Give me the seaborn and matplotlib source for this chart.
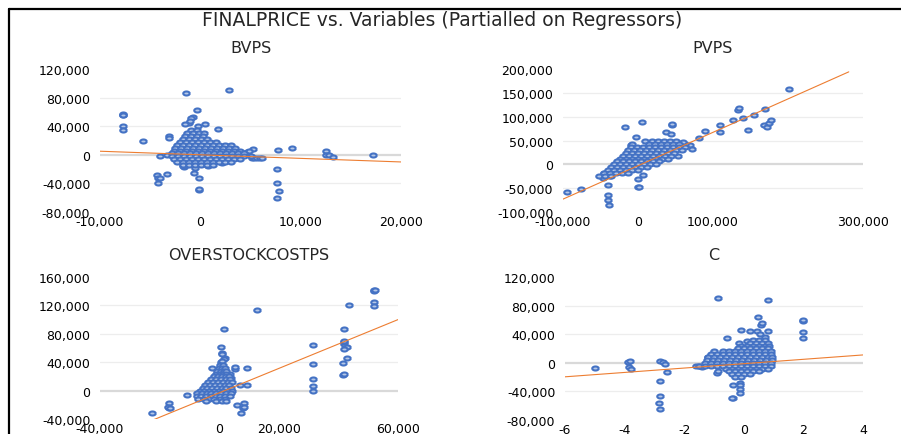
import numpy as np
import pandas as pd
import matplotlib
matplotlib.use("Agg")
import matplotlib.pyplot as plt
from matplotlib.lines import Line2D
from matplotlib.path import Path
from matplotlib.ticker import FuncFormatter
import seaborn as sns

# ---- data (partial regression plots) ----
# BVPS: scattered points + dense core rows (y, [x ...])
bvps_pts = [(-1400, 86000), (2900, 90000), (-7700, 57000), (-7700, 55000), (-7700, 56000),
            (-7700, 40000), (-7700, 34000), (-5700, 19000), (-3100, 26000), (-3100, 23000),
            (-300, 62000), (-700, 53000), (-900, 52000), (-1100, 45000), (-1500, 43000),
            (500, 43000), (-200, 40000), (1800, 36000), (-1000, 47000),
            (7700, 7000), (9100, 9000), (12500, 6000), (12500, 0), (12800, 0), (13200, -3000),
            (17200, 0), (7600, -20000), (7600, -40000), (7800, -50000), (7600, -60000),
            (-4300, -28000), (-4200, -33000), (-4000, -33000), (-4200, -40000), (-3300, -27000),
            (-100, -49000), (-150, -48500), (-100, -32000), (-600, -26000), (-500, -19000),
            (-1600, -17000), (800, -16000), (2200, -12000), (-1700, -16000), (-4000, -1000), (-3300, 0),
            (4700, 4000), (5200, 8000), (5100, -4000), (5300, -4000), (5600, -4000),
            (5900, -4000), (6100, -4000), (4900, 5000)]
bvps_core = [(34000, [-900, -300]),
             (30000, [-1300, -700, -100, 400]),
             (26000, [-1500, -900, -300, 300]),
             (22000, [-1700, -1100, -500, 100, 700]),
             (18000, [-2000, -1400, -800, -200, 400, 1000, 1600]),
             (14000, [-2300, -1700, -1100, -500, 100, 700, 1300, 1900, 2500, 3100]),
             (10000, [-2500, -1900, -1300, -700, -100, 500, 1100, 1700, 2300, 2900, 3500]),
             (6000, [-2600, -2000, -1400, -800, -200, 400, 1000, 1600, 2200, 2800, 3400, 4000]),
             (2000, [-2800, -2200, -1600, -1000, -400, 200, 800, 1400, 2000, 2600, 3200, 3800, 4400]),
             (-2000, [-2800, -2200, -1600, -1000, -400, 200, 800, 1400, 2000, 2600, 3200, 3800, 4400, 5000]),
             (-6000, [-2600, -2000, -1400, -800, -200, 400, 1000, 1600, 2200, 2800, 3400, 4000]),
             (-10000, [-2300, -1700, -1100, -500, 100, 700, 1300, 1900, 2500, 3100]),
             (-14000, [-1700, -1100, -500, 100, 700, 1300])]
bvps_trend = ([-10000, 20000], [5000, -10000])

# PVPS
pvps_pts = [(201000, 157000), (169000, 117000), (133000, 115000), (134000, 118000), (126000, 94000),
            (140000, 97000), (154000, 103000), (147000, 73000), (168000, 83000), (172000, 79000),
            (175000, 87000), (177000, 93000), (109000, 83000), (109000, 68000), (89000, 70000),
            (81000, 56000), (69000, 40000), (63000, 42000), (72000, 32000), (45000, 83000), (45000, 85000),
            (5000, 88000), (-18000, 79000), (-3000, 58000), (37000, 68000), (44000, 63000),
            (9000, 50000), (19000, 48000), (0, -31000), (0, -48000), (1000, -48000), (6000, -22000),
            (-40000, -44000), (-40000, -65000), (-40000, -75000), (-39000, -85000), (-95000, -58000),
            (-76000, -52000), (-45000, -19000), (-41000, -20000), (-47000, -28000), (-38000, -25000),
            (53000, 18000), (-10000, 40000), (60000, 46000)]
pvps_core = [(48000, [26000, 34000, 42000, 50000]),
             (42000, [-8000, 14000, 22000, 30000, 38000, 46000, 54000]),
             (36000, [-10000, -2000, 6000, 14000, 22000, 30000, 38000, 46000, 54000, 62000]),
             (30000, [-14000, -6000, 2000, 10000, 18000, 26000, 34000, 42000, 50000, 58000]),
             (24000, [-16000, -8000, 0, 8000, 16000, 24000, 32000, 40000, 48000]),
             (18000, [-20000, -12000, -4000, 4000, 12000, 20000, 28000, 36000, 44000]),
             (12000, [-24000, -16000, -8000, 0, 8000, 16000, 24000, 32000, 40000]),
             (6000, [-28000, -20000, -12000, -4000, 4000, 12000, 20000, 28000]),
             (0, [-32000, -24000, -16000, -8000, 0, 8000, 16000, 24000]),
             (-6000, [-36000, -28000, -20000, -12000, -4000, 4000, 12000]),
             (-12000, [-40000, -32000, -24000, -16000, -8000, 0]),
             (-18000, [-46000, -38000, -30000, -22000, -14000]),
             (-24000, [-52000, -44000, -36000])]
pvps_trend = ([-100000, 281000], [-73000, 194000])

# OVERSTOCKCOSTPS
osc_pts = [(52000, 140000), (52000, 142000), (52200, 141000), (52000, 125000), (52000, 119000),
           (43500, 120000), (42000, 87000), (42000, 66000), (42000, 68000), (42000, 70000),
           (43000, 62000), (42000, 59000), (43000, 46000), (41700, 39000), (41700, 22000),
           (41900, 23000), (31600, 64000), (31600, 38000), (31600, 16000), (31600, 7000),
           (31600, -1000), (12800, 114000), (1700, 87000), (700, 62000), (800, 53000),
           (800, 51000), (2000, 46000), (1500, 44000), (9400, 32000), (5400, 30000), (5400, 33000),
           (-2300, 32000), (9400, 8000), (7000, 8000), (6000, -20000), (8400, -18000),
           (8000, -24000), (8400, -23500), (7400, -31000), (-10800, -6000), (-16800, -17000),
           (-16800, -24000), (-17200, -23000), (-16600, -25000), (-22500, -32000),
           (4000, 18000), (3500, 24000), (500, 40000), (1000, 42000)]
osc_core = [(36000, [300, 1200]),
            (32000, [-200, 900, 1800]),
            (28000, [-600, 500, 1600, 2400]),
            (24000, [-1000, 200, 1300, 2400]),
            (20000, [-1800, -400, 1000, 2400, 3400]),
            (16000, [-2600, -1000, 600, 2200, 3600]),
            (12000, [-3600, -2000, -400, 1200, 2800, 4200]),
            (8000, [-4600, -3000, -1400, 200, 1800, 3400]),
            (4000, [-5600, -4000, -2400, -800, 800, 2400, 4000]),
            (0, [-6600, -5000, -3400, -1800, -200, 1400, 3000, 4400]),
            (-4000, [-7400, -5800, -4200, -2600, -1000, 600, 2200, 3800]),
            (-8000, [-7600, -6000, -4400, -2800, -1200, 400, 2000, 3600]),
            (-12000, [-7000, -5200, -3400, -1600, 200, 2000]),
            (-15000, [-4500, -1000, 1000, 2400])]
osc_trend = ([-22000, 60000], [-41000, 100000])

# C (constant)
c_pts = [(-5.0, -7000), (-3.87, 1400), (-3.82, 3000), (-3.85, -6000), (-3.78, -8000),
         (-2.82, 3000), (-2.7, 500), (-2.65, -1000), (-2.58, -13000), (-2.82, -25000),
         (-2.82, -46000), (-2.86, -56000), (-2.82, -65000), (-0.85, 90000), (0.82, 88000),
         (0.47, 64000), (0.57, 53000), (0.6, 55000), (-0.1, 46000), (0.2, 44000), (0.44, 44000),
         (0.8, 44000), (-0.57, 35000), (1.97, 58000), (1.97, 60000), (1.97, 43000), (1.97, 35000),
         (-0.13, -28000), (-0.13, -31000), (-0.35, -31000), (-0.13, -36000), (-0.13, -42000),
         (-0.37, -49000), (-0.4, -49000), (-0.9, -14000), (-0.85, -12000), (-0.1, -14000),
         (-1.2, 8000), (-1.6, -5000), (-1.5, -5000), (-1.4, -6000), (-0.15, 28000),
         (0.1, 30000), (0.7, 36000), (0.55, 40000)]
c_core = [(32000, [0.3, 0.5, 0.7]),
          (28000, [0.2, 0.4, 0.6, 0.8]),
          (24000, [-0.1, 0.1, 0.3, 0.5, 0.7, 0.85]),
          (20000, [-0.2, 0.0, 0.2, 0.4, 0.6, 0.8]),
          (16000, [-1.0, -0.7, -0.5, -0.3, -0.1, 0.1, 0.3, 0.5, 0.7, 0.9]),
          (12000, [-1.1, -0.9, -0.7, -0.5, -0.3, -0.1, 0.1, 0.3, 0.5, 0.7, 0.9]),
          (8000, [-1.2, -1.0, -0.8, -0.6, -0.4, -0.2, 0.0, 0.2, 0.4, 0.6, 0.8, 0.95]),
          (4000, [-1.25, -1.05, -0.85, -0.65, -0.45, -0.25, -0.05, 0.15, 0.35, 0.55, 0.75, 0.95]),
          (0, [-1.3, -1.1, -0.9, -0.7, -0.5, -0.3, -0.1, 0.1, 0.3, 0.5, 0.7, 0.9]),
          (-4000, [-1.5, -1.3, -1.1, -0.9, -0.7, -0.5, -0.3, -0.1, 0.1, 0.3, 0.5, 0.7, 0.9]),
          (-8000, [-0.6, -0.4, -0.2, 0.0, 0.2, 0.4, 0.6, 0.8]),
          (-12000, [-0.5, -0.3, -0.1, 0.1, 0.3, 0.5]),
          (-16000, [-0.4, -0.2, 0.0, 0.2]),
          (-20000, [-0.3, -0.1])]
c_trend = ([-6, 4], [-19600, 11000])

# axis ticks
bvps_xticks = [-10000, 0, 10000, 20000]
bvps_yticks = [-80000, -40000, 0, 40000, 80000, 120000]
pvps_xticks = [-100000, 0, 100000, 200000, 300000]
pvps_xlabels = ["-100,000", "0", "100,000", "", "300,000"]
pvps_yticks = [-100000, -50000, 0, 50000, 100000, 150000, 200000]
osc_xticks = [-40000, -20000, 0, 20000, 40000, 60000]
osc_xlabels = ["-40,000", "", "0", "20,000", "", "60,000"]
osc_yticks = [-40000, 0, 40000, 80000, 120000, 160000]
c_xticks = [-6, -4, -2, 0, 2, 4]
c_yticks = [-80000, -40000, 0, 40000, 80000, 120000]


def to_frame(pts, core):
    xs = [p[0] for p in pts]
    ys = [p[1] for p in pts]
    for yv, row in core:
        xs += row
        ys += [yv] * len(row)
    return pd.DataFrame({"x": xs, "y": ys})


sns.set_theme(style="white")
plt.rcParams["font.family"] = ["DejaVu Sans"]

BLUE = "#4472C4"
FACE = "#b4c7e7"
ORANGE = "#ED7D31"
t = np.linspace(0, 2 * np.pi, 25)
ellipse = Path(np.column_stack([np.cos(t), 0.62 * np.sin(t)]))

W, H = 901, 435
fig = plt.figure(figsize=(W / 100, H / 100), dpi=100)


def panel(rect, title, pts, core, trend, xticks, yticks, xlabels=None):
    l, t_, r, b = rect
    ax = fig.add_axes([l / W, 1 - b / H, (r - l) / W, (b - t_) / H])
    df = to_frame(pts, core)
    sns.scatterplot(data=df, x="x", y="y", ax=ax, marker=ellipse, s=22, legend=False)
    pc = ax.collections[-1]
    pc.set_facecolor(FACE)
    pc.set_edgecolor(BLUE)
    pc.set_linewidth(1.5)
    tdf = pd.DataFrame({"x": trend[0], "y": trend[1]})
    sns.lineplot(data=tdf, x="x", y="y", ax=ax, color=ORANGE, lw=0.8, zorder=3)
    for yv in yticks[1:-1]:
        if yv == 0:
            ax.axhline(0, color="#d9d9d9", lw=1.6, zorder=0)
        else:
            ax.axhline(yv, color="#ededed", lw=0.9, zorder=0)
    ax.set_xlim(xticks[0], xticks[-1])
    ax.set_ylim(yticks[0], yticks[-1])
    ax.set_xticks(xticks)
    ax.set_yticks(yticks)
    fmt = FuncFormatter(lambda v, p: f"{v:,.0f}")
    ax.yaxis.set_major_formatter(fmt)
    if xlabels is not None:
        ax.set_xticklabels(xlabels)
    else:
        ax.xaxis.set_major_formatter(fmt)
    ax.tick_params(axis="y", length=0, pad=7, labelsize=9, colors="#000000")
    ax.tick_params(axis="x", length=0, pad=2.5, labelsize=9, colors="#000000")
    ax.set_xlabel("")
    ax.set_ylabel("")
    for s in ax.spines.values():
        s.set_visible(False)
    ax.text(0.5, 1 + 22 / (b - t_), title, transform=ax.transAxes,
            ha="center", va="center", fontsize=11.5)
    return ax


panel((100, 70, 401, 213), "BVPS", bvps_pts, bvps_core, bvps_trend, bvps_xticks, bvps_yticks)
panel((563, 70, 863, 213), "PVPS", pvps_pts, pvps_core, pvps_trend, pvps_xticks, pvps_yticks, pvps_xlabels)
panel((100, 278, 398, 420), "OVERSTOCKCOSTPS", osc_pts, osc_core, osc_trend, osc_xticks, osc_yticks, osc_xlabels)
panel((565, 278, 863, 421), "C", c_pts, c_core, c_trend, c_xticks, c_yticks)

fig.text(442 / W, 1 - 20.5 / H, "FINALPRICE vs. Variables (Partialled on Regressors)",
         ha="center", va="center", fontsize=13.5)

# chart frame (top and left edges visible in the crop)
fig.add_artist(Line2D([9 / W, 9 / W], [0, 1 - 10 / H], color="black", lw=1.6,
                      transform=fig.transFigure))
fig.add_artist(Line2D([9 / W, 1], [1 - 10 / H, 1 - 10 / H], color="black", lw=1.6,
                      transform=fig.transFigure))

fig.savefig("out.png", dpi=100)
